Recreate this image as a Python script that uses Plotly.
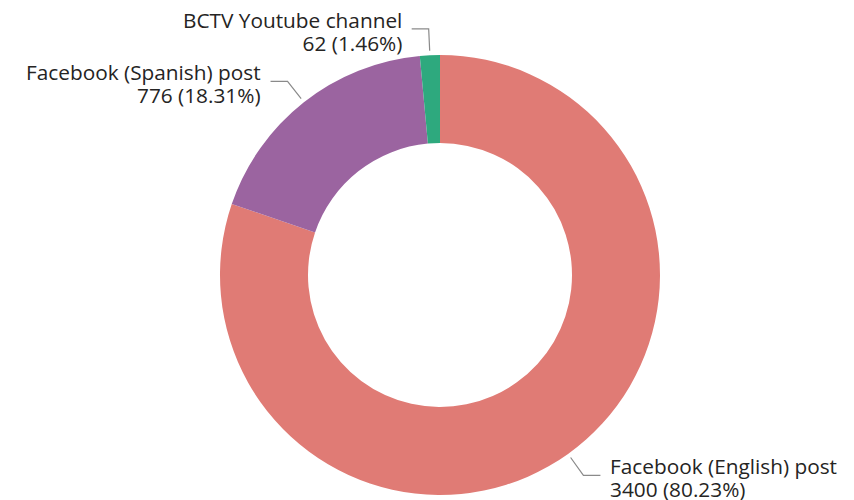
import math
import plotly.graph_objects as go

labels = ["Facebook (English) post", "Facebook (Spanish) post", "BCTV Youtube channel"]
values = [3400, 776, 62]
colors = ["#E07B75", "#9B64A0", "#2EA97E"]

W, H = 854, 500
CX, CY, R = 440, 275, 220  # pie centre / radius in pixels
HOLE = 0.6

def px(x):
    return x / W

def py(y):
    return 1 - y / H

dom_x = [px(CX - R), px(CX + R)]
dom_y = [py(CY + R), py(CY - R)]

fig = go.Figure(go.Pie(
    labels=labels, values=values, hole=HOLE, sort=False, direction="clockwise",
    rotation=0, marker=dict(colors=colors, line=dict(width=0)),
    textinfo="none", showlegend=False, domain=dict(x=dom_x, y=dom_y),
))

total = sum(values)
cum = 0
annotations, shapes = [], []
for lab, v in zip(labels, values):
    mid = (cum + v / 2) / total
    cum += v
    ang = math.radians(90 - mid * 360)
    c, s = math.cos(ang), math.sin(ang)
    x0, y0 = CX + R * 1.02 * c, CY - R * 1.02 * s
    x1, y1 = CX + R * 1.12 * c, CY - R * 1.12 * s
    side = 1 if c >= 0 else -1
    x2 = x1 + side * 17
    shapes.append(dict(type="path", xref="paper", yref="paper",
                       path=f"M {px(x0)} {py(y0)} L {px(x1)} {py(y1)} L {px(x2)} {py(y1)}",
                       line=dict(color="#8a8a8a", width=1.2)))
    pct = v / total * 100
    txt = (f'<span style="font-size:20.8px">{lab}</span><br>'
           f'<span style="font-size:20.8px">{v} ({pct:.2f}%)</span>')
    annotations.append(dict(
        x=px(x2 + side * 9), y=py(y1 + 2.2), xref="paper", yref="paper",
        text=txt, showarrow=False, borderpad=0,
        xanchor="left" if side > 0 else "right", yanchor="middle",
        align="left" if side > 0 else "right",
        font=dict(family="Open Sans", size=18, color="#252423"),
    ))

fig.update_layout(
    width=W, height=H, margin=dict(l=0, r=0, t=0, b=0),
    paper_bgcolor="white", plot_bgcolor="white",
    annotations=annotations, shapes=shapes,
)
fig.write_html("out.html", config={"displayModeBar": False},
               post_script="document.body.style.margin='0';")
